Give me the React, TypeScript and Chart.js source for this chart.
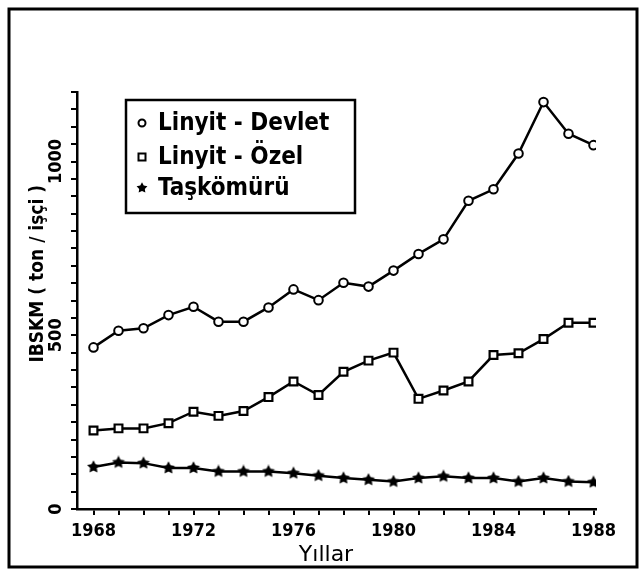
import React, { useEffect, useRef } from 'react';
import { Chart, registerables } from 'chart.js';

Chart.register(...registerables);

const years = [1968, 1969, 1970, 1971, 1972, 1973, 1974, 1975, 1976, 1977, 1978, 1979, 1980, 1981, 1982, 1983, 1984, 1985, 1986, 1987, 1988];
const devletValues = [465, 513, 520, 558, 582, 539, 539, 580, 632, 601, 651, 640, 686, 734, 776, 887, 920, 1023, 1171, 1080, 1047];
const ozelValues = [226, 232, 232, 247, 280, 268, 282, 322, 367, 328, 395, 427, 450, 317, 341, 367, 443, 448, 489, 536, 536];
const taskomuruValues = [121, 134, 132, 118, 118, 108, 108, 108, 103, 96, 89, 84, 79, 89, 94, 89, 89, 79, 89, 79, 77];
const xTickLabels = [1968, 1972, 1976, 1980, 1984, 1988];
const yTickLabels = [0, 500, 1000];
const seriesLabels = ['Linyit - Devlet', 'Linyit - Özel', 'Taşkömürü'];
const yAxisTitle = 'IBSKM ( ton / işçi )';
const xAxisTitle = 'Yıllar';

const FONT = "'DejaVu Sans Condensed', 'DejaVu Sans', sans-serif";

function makeStar(size: number): HTMLCanvasElement {
  const c = document.createElement('canvas');
  c.width = size;
  c.height = size;
  const ctx = c.getContext('2d')!;
  const cx = size / 2;
  const cy = size / 2;
  const R = size / 2 - 0.3;
  const r = R * 0.52;
  ctx.beginPath();
  for (let i = 0; i < 10; i++) {
    const ang = -Math.PI / 2 + (i * Math.PI) / 5;
    const rad = i % 2 === 0 ? R : r;
    ctx.lineTo(cx + rad * Math.cos(ang), cy + rad * Math.sin(ang));
  }
  ctx.closePath();
  ctx.fillStyle = '#000';
  ctx.fill();
  return c;
}

export default function App() {
  const ref = useRef<HTMLCanvasElement | null>(null);

  useEffect(() => {
    if (!ref.current) return;
    const star = makeStar(14);
    const legendStar = makeStar(12);

    const framePlugin = {
      id: 'frame',
      beforeDraw(chart: any) {
        const ctx = chart.ctx;
        ctx.save();
        ctx.fillStyle = '#fff';
        ctx.fillRect(0, 0, chart.width, chart.height);
        ctx.strokeStyle = '#000';
        ctx.lineWidth = 3;
        ctx.strokeRect(9, 9, 628, 558);
        ctx.restore();
      },
    };

    const legendPlugin = {
      id: 'boxLegend',
      afterDraw(chart: any) {
        const ctx = chart.ctx;
        ctx.save();
        ctx.strokeStyle = '#000';
        ctx.lineWidth = 2.5;
        ctx.strokeRect(126, 100, 229, 113);
        const rows = [123, 157, 188];
        const mx = 142;
        chart.data.datasets.forEach((ds: any, i: number) => {
          const y = rows[i];
          ctx.lineWidth = 2;
          ctx.strokeStyle = '#000';
          ctx.fillStyle = '#fff';
          if (i === 0) {
            ctx.beginPath();
            ctx.arc(mx, y, 3.5, 0, Math.PI * 2);
            ctx.fill();
            ctx.stroke();
          } else if (i === 1) {
            ctx.beginPath();
            ctx.rect(mx - 3.5, y - 3.5, 7, 7);
            ctx.fill();
            ctx.stroke();
          } else {
            ctx.drawImage(legendStar, mx - 6, y - 6);
          }
          ctx.fillStyle = '#000';
          ctx.font = `bold 24px ${FONT}`;
          ctx.textBaseline = 'middle';
          ctx.textAlign = 'left';
          ctx.fillText(ds.label, 158, y + 1);
        });
        ctx.restore();
      },
    };

    const mk = (vals: number[]) => years.map((yr, i) => ({ x: yr, y: vals[i] }));

    const chart = new Chart(ref.current, {
      type: 'line',
      data: {
        datasets: [
          {
            label: seriesLabels[0],
            data: mk(devletValues),
            borderColor: '#000',
            borderWidth: 2.5,
            pointStyle: 'circle',
            pointRadius: 4.3,
            pointBackgroundColor: '#fff',
            pointBorderColor: '#000',
            pointBorderWidth: 2,
            tension: 0,
          },
          {
            label: seriesLabels[1],
            data: mk(ozelValues),
            borderColor: '#000',
            borderWidth: 2.5,
            pointStyle: 'rect',
            pointRadius: 5.5,
            pointBackgroundColor: '#fff',
            pointBorderColor: '#000',
            pointBorderWidth: 2.2,
            tension: 0,
          },
          {
            label: seriesLabels[2],
            data: mk(taskomuruValues),
            borderColor: '#000',
            borderWidth: 2.5,
            pointStyle: star as any,
            pointRadius: 6,
            tension: 0,
          },
        ],
      },
      options: {
        responsive: false,
        animation: false,
        devicePixelRatio: 1,
        layout: { padding: { top: 92, right: 44, left: 0, bottom: 0 } },
        plugins: {
          legend: { display: false },
          tooltip: { enabled: false },
        },
        scales: {
          x: {
            type: 'linear',
            min: 1967.34,
            max: 1988.1,
            ticks: {
              stepSize: 1,
              includeBounds: false,
              autoSkip: false,
              maxRotation: 0,
              minRotation: 0,
              padding: 6,
              color: '#000',
              font: { family: FONT, size: 18, weight: 'bold' },
              callback: (v: any) => (xTickLabels.includes(Number(v)) ? String(v) : ''),
            },
            grid: { drawOnChartArea: false, drawTicks: true, tickLength: 6, color: '#000', lineWidth: 2 },
            border: { display: true, color: '#000', width: 2.5 },
            title: {
              display: true,
              text: xAxisTitle + '   ',
              color: '#000',
              font: { family: "'DejaVu Sans', sans-serif", size: 22, weight: 'normal' },
              padding: { top: 0, bottom: 6 },
            },
            afterFit: (scale: any) => {
              scale.height = 65;
            },
          },
          y: {
            type: 'linear',
            min: 0,
            max: 1200,
            ticks: {
              stepSize: 50,
              autoSkip: false,
              minRotation: 90,
              maxRotation: 90,
              crossAlign: 'center',
              padding: -8,
              color: '#000',
              font: { family: FONT, size: 18, weight: 'bold' },
              callback: (v: any) => (yTickLabels.includes(Number(v)) ? String(v) : ''),
            },
            grid: { drawOnChartArea: false, drawTicks: true, tickLength: 6, color: '#000', lineWidth: 2 },
            border: { display: true, color: '#000', width: 2.5 },
            title: {
              display: true,
              text: '         ' + yAxisTitle,
              color: '#000',
              font: { family: FONT, size: 19, weight: 'bold' },
              padding: { top: 27, bottom: 0 },
            },
            afterFit: (scale: any) => {
              scale.width = 77;
            },
          },
        },
      } as any,
      plugins: [framePlugin, legendPlugin],
    });
    return () => chart.destroy();
  }, []);

  return (
    <div style={{ position: 'fixed', left: 0, top: 0, width: 640, height: 574 }}>
      <canvas ref={ref} width={640} height={574} style={{ width: 640, height: 574, display: 'block' }} />
    </div>
  );
}
